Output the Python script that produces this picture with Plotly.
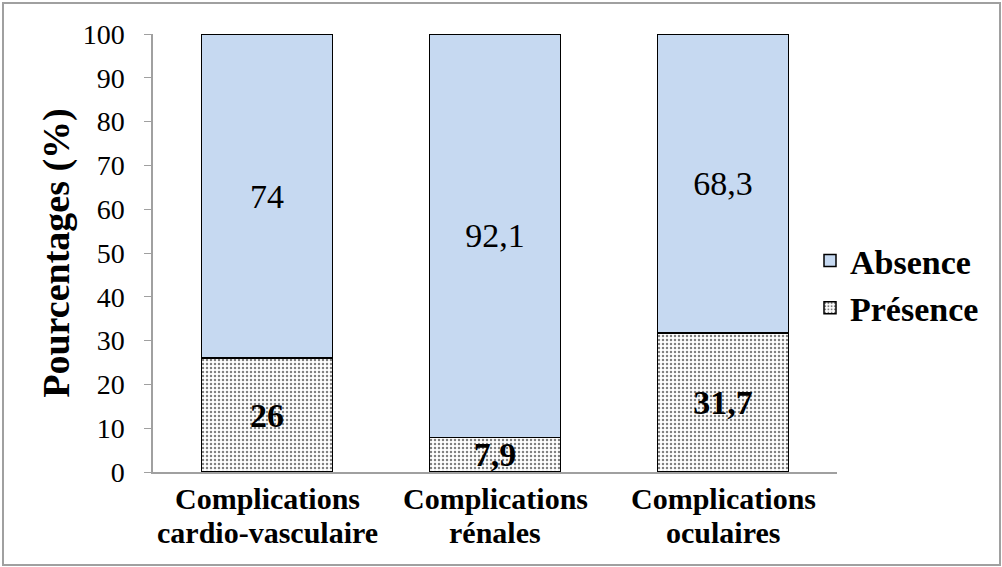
import plotly.graph_objects as go

categories = ["Complications<br>cardio-vasculaire", "Complications<br>rénales", "Complications<br>oculaires"]
presence = [26, 7.9, 31.7]
absence = [74, 92.1, 68.3]
presence_labels = ["26", "7,9", "31,7"]
absence_labels = ["74", "92,1", "68,3"]
y_ticks = [0, 10, 20, 30, 40, 50, 60, 70, 80, 90, 100]

FONT = "Liberation Serif, Times New Roman, serif"
W, H = 1002, 567
L, R, T, B = 153, 165, 34, 95
PW, PH = W - L - R, H - T - B

fig = go.Figure()
fig.add_trace(go.Bar(
    x=categories, y=presence, name="<b>Présence</b>",
    text=[f"<b>{t}</b>" for t in presence_labels],
    textposition="inside", insidetextanchor="middle", constraintext="none",
    textfont=dict(family=FONT, size=34, color="black"),
    marker=dict(color="white", line=dict(color="black", width=1.5),
                pattern=dict(shape=".", fgcolor="black", bgcolor="white",
                             size=4, solidity=0.3)),
    width=0.575,
))
fig.add_trace(go.Bar(
    x=categories, y=absence, name="<b>Absence</b>",
    text=absence_labels,
    textposition="inside", insidetextanchor="middle", constraintext="none",
    textfont=dict(family=FONT, size=34, color="black"),
    marker=dict(color="#c6d9f1", line=dict(color="black", width=1.5)),
    width=0.575,
))

def px_x(p):
    return (p - L) / PW

def px_y(p):
    return (H - B - p) / PH

# Two-line category labels under the x axis, with tight line spacing
label_annotations = []
for cat in categories:
    for i, line in enumerate(cat.split("<br>")):
        label_annotations.append(dict(
            x=cat, xref="x", y=px_y(498 + 34 * i), yref="paper",
            text=f"<b>{line}</b>", showarrow=False,
            xanchor="center", yanchor="middle",
            font=dict(family=FONT, size=30, color="black"),
        ))

fig.update_layout(
    width=W, height=H,
    margin=dict(l=L, r=R, t=T, b=B),
    barmode="stack",
    paper_bgcolor="white", plot_bgcolor="white",
    font=dict(family=FONT, size=28, color="black"),
    showlegend=True,
    legend=dict(x=px_x(810), y=px_y(232), xanchor="left", yanchor="top",
                traceorder="reversed", font=dict(family=FONT, size=34, color="black"),
                itemwidth=30, tracegroupgap=0),
    uniformtext=dict(mode=False),
    annotations=label_annotations,
    shapes=[dict(type="rect", xref="paper", yref="paper",
                 x0=px_x(3), x1=px_x(1000), y0=px_y(565), y1=px_y(3),
                 line=dict(color="#a0a0a0", width=2), layer="below")],
)
fig.update_xaxes(
    showline=True, linecolor="#a0a0a0", linewidth=1.5,
    ticks="", showticklabels=False,
    showgrid=False,
)
fig.update_yaxes(
    range=[0, 100], tickvals=y_ticks,
    showline=True, linecolor="#a0a0a0", linewidth=1.5,
    ticks="outside", ticklen=7, tickcolor="#a0a0a0", ticklabelstandoff=14,
    tickfont=dict(family=FONT, size=28, color="black"),
    showgrid=False, zeroline=False,
    title=dict(text="<b>Pourcentages (%)</b>", font=dict(family=FONT, size=38, color="black"), standoff=1),
)

fig.write_html("out.html")
